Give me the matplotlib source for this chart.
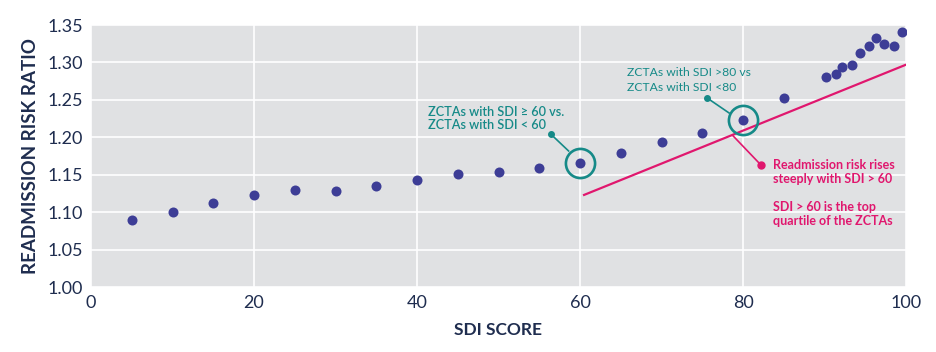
import matplotlib
matplotlib.use("Agg")
import matplotlib.pyplot as plt

# Data
sdi = [5, 10, 15, 20, 25, 30, 35, 40, 45, 50, 55, 60, 65, 70, 75, 80, 85,
       90.2, 91.4, 92.2, 93.4, 94.3, 95.4, 96.3, 97.3, 98.5, 99.5]
rr = [1.090, 1.100, 1.112, 1.123, 1.130, 1.128, 1.135, 1.143, 1.151, 1.154, 1.159,
      1.166, 1.179, 1.194, 1.206, 1.223, 1.252,
      1.280, 1.284, 1.294, 1.297, 1.312, 1.322, 1.333, 1.325, 1.322, 1.341]
trend_x = [60.5, 100]
trend_y = [1.123, 1.297]
highlight_x = [60, 80]
highlight_y = [1.166, 1.223]
xticks = [0, 20, 40, 60, 80, 100]
yticks = [1.00, 1.05, 1.10, 1.15, 1.20, 1.25, 1.30, 1.35]

NAVY = '#1f2d4f'
DOT = '#3d3d96'
TEAL = '#168a88'
PINK = '#e0176e'
BG = '#e0e1e3'
FONT = ['Lato', 'DejaVu Sans']
plt.rcParams['font.family'] = FONT

fig = plt.figure(figsize=(9.36, 3.52), dpi=100)
ax = fig.add_axes([91/936, 1-287/352, (906-91)/936, (287-25)/352])
ax.set_facecolor(BG)
for s in ax.spines.values():
    s.set_visible(False)
ax.set_xlim(0, 100)
ax.set_ylim(1.00, 1.35)
ax.set_xticks(xticks)
ax.set_yticks(yticks)
ax.set_xticklabels([str(t) for t in xticks])
ax.set_yticklabels([f"{t:.2f}" for t in yticks])
ax.grid(True, color='white', linewidth=1.2)
ax.set_axisbelow(True)
ax.tick_params(length=0, labelsize=13, colors=NAVY, pad=6)

ax.plot(trend_x, trend_y, color=PINK, linewidth=1.6, zorder=2)
ax.scatter(sdi, rr, s=52, color=DOT, zorder=3, linewidths=0)
ax.plot(highlight_x, highlight_y, linestyle='none', marker='o', markersize=21,
        markerfacecolor='none', markeredgecolor=TEAL, markeredgewidth=1.9, zorder=4)

# teal leaders
ax.plot([56.4, 58.6], [1.2044, 1.1817], color=TEAL, lw=1.2, zorder=4)
ax.plot([56.4], [1.2044], 'o', color=TEAL, ms=4, zorder=4)
ax.plot([75.6, 78.3], [1.2525, 1.2324], color=TEAL, lw=1.2, zorder=4)
ax.plot([75.6], [1.2525], 'o', color=TEAL, ms=4, zorder=4)
# pink leader
ax.plot([78.8, 82.2], [1.2017, 1.163], color=PINK, lw=1.2, zorder=4)
ax.plot([82.2], [1.163], 'o', color=PINK, ms=5, zorder=4)

ax.text(41.3, 1.2251, "ZCTAs with SDI \u2265 60 vs.\nZCTAs with SDI < 60", color=TEAL,
        fontsize=9.2, fontweight='semibold', va='center', ha='left', linespacing=1.15)
ax.text(65.8, 1.2765, "ZCTAs with SDI >80 vs\nZCTAs with SDI <80", color=TEAL,
        fontsize=8.7, va='center', ha='left', linespacing=1.45)
ax.text(83.7, 1.1262, "Readmission risk rises\nsteeply with SDI > 60\n\nSDI > 60 is the top\nquartile of the ZCTAs",
        color=PINK, fontsize=9, fontweight='bold', va='center', ha='left', linespacing=1.2)

ax.set_ylabel("READMISSION RISK RATIO", fontsize=13.5, fontweight='bold', color=NAVY, labelpad=6)
ax.set_xlabel("SDI SCORE", fontsize=12.5, fontweight='bold', color=NAVY, labelpad=8)

fig.savefig("out.png", dpi=100, facecolor='white')
